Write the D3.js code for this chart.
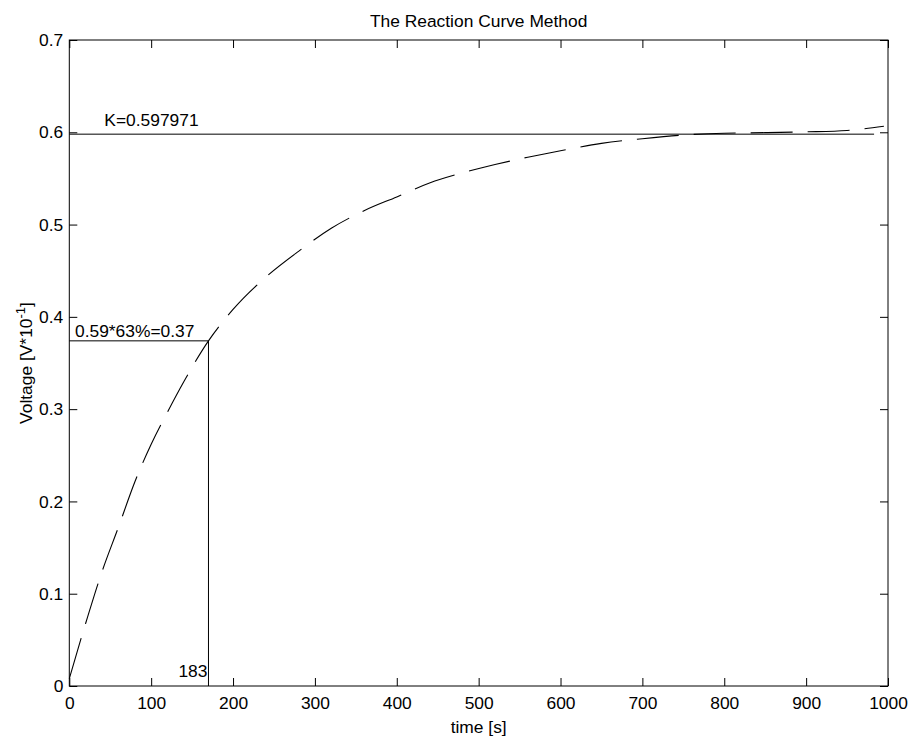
<!DOCTYPE html>
<html>
<head>
<meta charset="utf-8">
<script src="https://cdn.jsdelivr.net/npm/d3@7"></script>
<style>
  html, body { margin: 0; padding: 0; background: #fff; }
  svg { display: block; font-family: "Liberation Sans", Arial, Helvetica, sans-serif; }
</style>
</head>
<body>
<svg id="chart" width="912" height="738"></svg>
<script>
// Measured step response (time in seconds, voltage in V*10^-1)
const timeS   = [0, 20, 40, 60, 80, 100, 120, 140, 170, 200, 240, 280, 320, 360, 400,
                 440, 480, 520, 560, 600, 650, 700, 750, 800, 850, 900, 950, 995];
const voltage = [0.008, 0.068, 0.124, 0.172, 0.221, 0.262, 0.297, 0.330, 0.374, 0.408,
                 0.443, 0.471, 0.496, 0.515, 0.530, 0.545, 0.556, 0.565, 0.573, 0.580,
                 0.588, 0.593, 0.597, 0.599, 0.5996, 0.6005, 0.602, 0.6065];

// Steady-state gain and the 63% point
const kValue = 0.597971;
const kLineEnd = 983;
const tauVoltage = 0.374;
const tauTime = 170;
const kLabel = "K=0.597971";
const tauVoltageLabel = "0.59*63%=0.37";
const tauTimeLabel = "183";

// Axis ticks
const xTicks = [0, 100, 200, 300, 400, 500, 600, 700, 800, 900, 1000];
const yTicks = [0, 0.1, 0.2, 0.3, 0.4, 0.5, 0.6, 0.7];

const titleText = "The Reaction Curve Method";
const xLabelText = "time [s]";

const FS = 17.4;
const plotLeft = 69.3, plotRight = 888, plotTop = 40, plotBottom = 686;

const svg = d3.select("#chart");
svg.append("rect").attr("width", 912).attr("height", 738).attr("fill", "#fff");

const x = d3.scaleLinear().domain([0, 1000]).range([plotLeft, plotRight]);
const y = d3.scaleLinear().domain([0, 0.7]).range([plotBottom, plotTop]);

// Axes: ticks point inward on all four sides
const styleAxis = g => {
  g.select(".domain").remove();
  g.selectAll("line").attr("stroke", "#000").attr("stroke-width", 1);
  g.selectAll("text").attr("fill", "#000").attr("font-size", FS).attr("font-family", null);
};

svg.append("g").attr("transform", `translate(0,${plotBottom})`)
  .call(d3.axisBottom(x).tickValues(xTicks).tickSizeInner(-8).tickSizeOuter(0)
        .tickPadding(11).tickFormat(d3.format("d")))
  .call(styleAxis);
svg.append("g").attr("transform", `translate(0,${plotTop})`)
  .call(d3.axisTop(x).tickValues(xTicks).tickSizeInner(-8).tickSizeOuter(0).tickFormat(""))
  .call(styleAxis);
svg.append("g").attr("transform", `translate(${plotLeft},0)`)
  .call(d3.axisLeft(y).tickValues(yTicks).tickSizeInner(-8).tickSizeOuter(0)
        .tickPadding(6).tickFormat(d => d === 0 ? "0" : d3.format(".1f")(d)))
  .call(styleAxis);
svg.append("g").attr("transform", `translate(${plotRight},0)`)
  .call(d3.axisRight(y).tickValues(yTicks).tickSizeInner(-8).tickSizeOuter(0).tickFormat(""))
  .call(styleAxis);

// Plot frame
svg.append("rect")
  .attr("x", plotLeft).attr("y", plotTop)
  .attr("width", plotRight - plotLeft).attr("height", plotBottom - plotTop)
  .attr("fill", "none").attr("stroke", "#000").attr("stroke-width", 1);

// Gain reference line
svg.append("line")
  .attr("x1", x(0)).attr("x2", x(kLineEnd))
  .attr("y1", y(kValue)).attr("y2", y(kValue))
  .attr("stroke", "#000").attr("stroke-width", 1);

// 63% construction lines
svg.append("path")
  .attr("d", `M${x(0)},${y(tauVoltage)}H${x(tauTime)}V${y(0)}`)
  .attr("fill", "none").attr("stroke", "#000").attr("stroke-width", 1);

// Response curve
const line = d3.line().x((d, i) => x(timeS[i])).y(d => y(d)).curve(d3.curveMonotoneX);
svg.append("path")
  .attr("d", line(voltage))
  .attr("fill", "none").attr("stroke", "#000").attr("stroke-width", 1.1)
  .attr("stroke-dasharray", "42 15");

// Annotations
svg.append("text").attr("x", 104.3).attr("y", y(kValue) - 8)
  .attr("font-size", FS).text(kLabel);
svg.append("text").attr("x", 75).attr("y", y(tauVoltage) - 4)
  .attr("font-size", FS).text(tauVoltageLabel);
svg.append("text").attr("x", x(tauTime) - 1).attr("y", 676.7)
  .attr("text-anchor", "end").attr("font-size", FS).text(tauTimeLabel);

// Title and axis labels
svg.append("text").attr("x", (plotLeft + plotRight) / 2).attr("y", 26.5)
  .attr("text-anchor", "middle").attr("font-size", FS).text(titleText);
svg.append("text").attr("x", (plotLeft + plotRight) / 2).attr("y", 733)
  .attr("text-anchor", "middle").attr("font-size", FS).text(xLabelText);

const yLab = svg.append("text")
  .attr("transform", `translate(32,${(plotTop + plotBottom) / 2}) rotate(-90)`)
  .attr("text-anchor", "middle").attr("font-size", FS);
yLab.append("tspan").text("Voltage [V*10");
yLab.append("tspan").attr("font-size", FS * 0.75).attr("dy", -7).text("-1");
yLab.append("tspan").attr("dy", 7).text("]");
</script>
</body>
</html>
